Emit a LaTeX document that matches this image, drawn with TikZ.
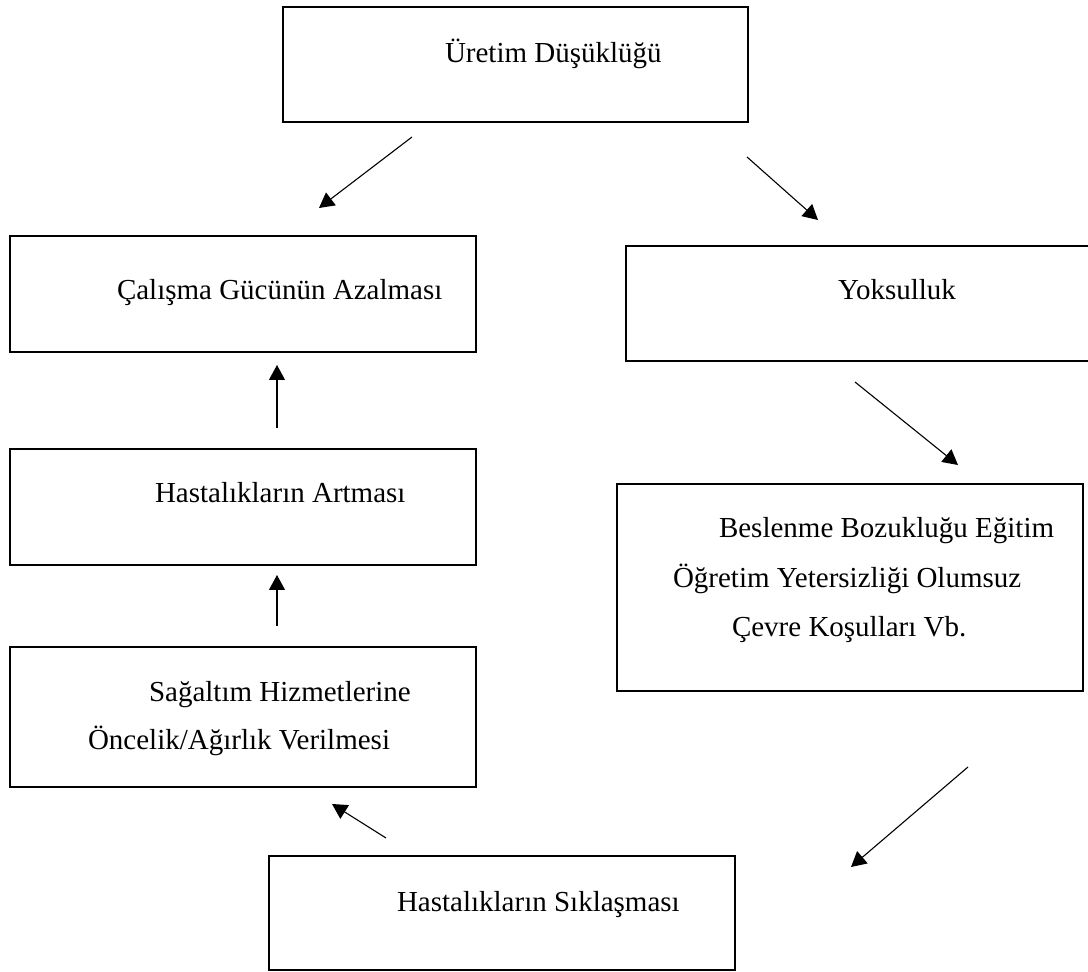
\documentclass[tikz,border=0pt]{standalone}
\usepackage{fontspec}
\setmainfont{Liberation Serif}
\usetikzlibrary{arrows.meta}
\tikzset{
  box/.style={draw=black, line width=1.15pt, rectangle, inner sep=0pt, outer sep=0pt},
  txt/.style={inner sep=0pt, outer sep=0pt, anchor=base west, font=\fontsize{14.5pt}{25pt}\selectfont},
  conn/.style={line width=0.55pt, -{Triangle[length=7.5pt,width=8pt]}}
}
\begin{document}
\begin{tikzpicture}[x=0.5pt,y=-0.5pt]
\useasboundingbox (0,0) rectangle (1088,972);
\begin{scope}
\clip (0,0) rectangle (1088,972);
% boxes
\node[box, minimum width=232.5pt, minimum height=57.5pt] (b1) at (515.5,64.5) {};
\node[box, minimum width=233pt, minimum height=58pt] (b2) at (243,294) {};
\node[box, minimum width=234.5pt, minimum height=57.5pt] (b3) at (860.5,303.5) {};
\node[box, minimum width=233pt, minimum height=58pt] (b4) at (243,507) {};
\node[box, minimum width=233pt, minimum height=103.5pt] (b5) at (850,587.5) {};
\node[box, minimum width=233pt, minimum height=70pt] (b6) at (243,717) {};
\node[box, minimum width=233pt, minimum height=57pt] (b7) at (502,913) {};
\end{scope}
% texts
\node[txt] (t1) at (445,63) {Üretim Düşüklüğü};
\node[txt] (t2) at (117,300) {Çalışma Gücünün Azalması};
\node[txt] (t3) at (838,300) {Yoksulluk};
\node[txt] (t4) at (155,503) {Hastalıkların Artması};
\node[txt] (t5a) at (719,538) {Beslenme Bozukluğu Eğitim};
\node[txt] (t5b) at (673,588) {Öğretim Yetersizliği Olumsuz};
\node[txt] (t5c) at (732,637) {Çevre Koşulları Vb.};
\node[txt] (t6a) at (149,702) {Sağaltım Hizmetlerine};
\node[txt] (t6b) at (88,750) {Öncelik/Ağırlık Verilmesi};
\node[txt] (t7) at (397,912) {Hastalıkların Sıklaşması};
% connector ends
\coordinate (a1s) at (412,137); \coordinate (a1e) at (319,208);
\coordinate (a2s) at (747,157); \coordinate (a2e) at (818,220);
\coordinate (a3s) at (855,382); \coordinate (a3e) at (958,465);
\coordinate (a4s) at (968,767); \coordinate (a4e) at (851,867);
\coordinate (a5s) at (386,838); \coordinate (a5e) at (332,804);
\coordinate (a6s) at (277,428); \coordinate (a6e) at (277,365);
\coordinate (a7s) at (277,626); \coordinate (a7e) at (277,575);
\draw[conn] (a1s) -- (a1e);
\draw[conn] (a2s) -- (a2e);
\draw[conn] (a3s) -- (a3e);
\draw[conn] (a4s) -- (a4e);
\draw[conn] (a5s) -- (a5e);
\draw[conn] (a6s) -- (a6e);
\draw[conn] (a7s) -- (a7e);
\end{tikzpicture}
\end{document}
